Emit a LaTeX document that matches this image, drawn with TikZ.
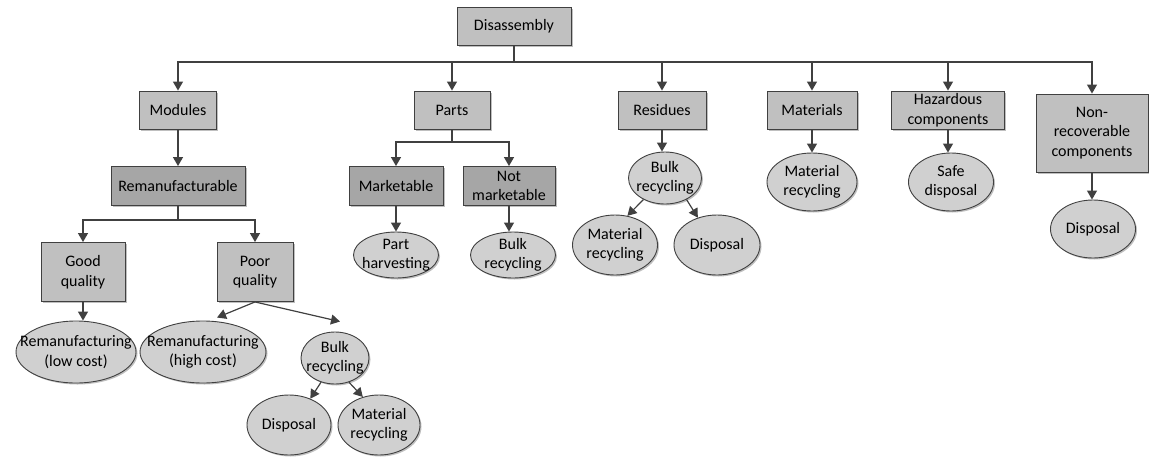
\documentclass[tikz,border=0pt]{standalone}
\usepackage{fontspec}
\setmainfont{Carlito}
\usetikzlibrary{shapes.geometric,arrows.meta,shadows,calc}
\definecolor{linegray}{HTML}{404040}
\definecolor{boxlight}{HTML}{C0C0C0}
\definecolor{boxdark}{HTML}{A6A6A6}
\definecolor{ovalfill}{HTML}{D0D0D0}
\begin{document}
\begin{tikzpicture}[x=1pt,y=-1pt,
  every node/.style={font=\fontsize{16}{19.5}\selectfont, text=black, inner sep=0pt, align=center},
  shade/.style={drop shadow={shadow xshift=1.5pt, shadow yshift=-1.5pt, fill=black, opacity=0.25}},
  boxa/.style={rectangle, draw=linegray, line width=0.9pt, fill=boxlight, shade},
  boxb/.style={rectangle, draw=linegray, line width=0.9pt, fill=boxdark, shade},
  % the oval keeps its given size; its text is laid on top as a centred label
  oval/.style={ellipse, draw=linegray, line width=0.9pt, fill=ovalfill, shade,
    label={[align=center]center:#1}},
  arr/.style={draw=linegray, line width=1.2pt, -{Triangle[length=9pt,width=10pt]}}]
\useasboundingbox (0,0) rectangle (1149,456);

% top level
\node[boxa, minimum width=114pt, minimum height=38pt] (dis) at (514,26) {Disassembly};

% first level
\node[boxa, minimum width=77pt,  minimum height=38pt] (mod) at (178,110) {Modules};
\node[boxa, minimum width=76pt,  minimum height=38pt] (par) at (452,110) {Parts};
\node[boxa, minimum width=88pt,  minimum height=38pt] (res) at (662,110) {Residues};
\node[boxa, minimum width=90pt,  minimum height=38pt] (mat) at (812,110) {Materials};
\node[boxa, minimum width=113pt, minimum height=38pt] (haz) at (948,110) {Hazardous\\components};
\node[boxa, minimum width=112pt, minimum height=78pt] (non) at (1092,133) {Non-\\recoverable\\components};

% modules branch
\node[boxb, minimum width=134pt, minimum height=39pt] (rem) at (178,186) {Remanufacturable};
\node[boxa, minimum width=84pt, minimum height=59pt] (good) at (83,272) {Good\\quality};
\node[boxa, minimum width=76pt, minimum height=59pt] (poor) at (255,272) {Poor\\quality};
\node[oval={Remanufacturing\\(low cost)}, minimum width=120pt, minimum height=62pt] (rlc) at (76,352) {};
\node[oval={Remanufacturing\\(high cost)}, minimum width=126pt, minimum height=62pt] (rhc) at (203,352) {};
\node[oval={Bulk\\recycling}, minimum width=68pt, minimum height=52pt] (bpr) at (335,358) {};
\node[oval={Disposal}, minimum width=84pt, minimum height=60pt] (dpr) at (289,425) {};
\node[oval={Material\\recycling}, minimum width=82pt, minimum height=60pt] (mpr) at (379,425) {};

% parts branch
\node[boxb, minimum width=94pt, minimum height=39pt] (mkt) at (396,186) {Marketable};
\node[boxb, minimum width=92pt, minimum height=39pt] (nmk) at (509,186) {Not\\marketable};
\node[oval={Part\\harvesting}, minimum width=85pt, minimum height=46pt] (phv) at (396,255) {};
\node[oval={Bulk\\recycling}, minimum width=85pt, minimum height=46pt] (bnm) at (513,255) {};

% residues branch
\node[oval={Bulk\\recycling}, minimum width=73pt, minimum height=52pt] (bre) at (665,178) {};
\node[oval={Material\\recycling}, minimum width=85pt, minimum height=60pt] (mre) at (615,245) {};
\node[oval={Disposal}, minimum width=86pt, minimum height=60pt] (dre) at (717,245) {};

% remaining branches
\node[oval={Material\\recycling}, minimum width=90pt, minimum height=58pt] (mmt) at (812,182) {};
\node[oval={Safe\\disposal}, minimum width=85pt, minimum height=58pt] (sdp) at (951,182) {};
\node[oval={Disposal}, minimum width=85pt, minimum height=58pt] (dnr) at (1093,229) {};

% connectors from the top
\coordinate (bus) at (0,62);
\foreach \c in {mod,par,res,mat,haz,non}
  \draw[arr] (dis.south) -- (dis.south |- bus) -| (\c.north);

% modules branch connectors
\draw[arr] (mod.south) -- (rem.north);
\coordinate (splitq) at (0,220);
\draw[arr] (rem.south) -- (rem.south |- splitq) -| (good.north);
\draw[arr] (rem.south) -- (rem.south |- splitq) -| (poor.north);
\draw[arr] (good.south) -- (good.south |- rlc.north);
\draw[arr] (poor.south) -- ($(rhc.north)+(14,-3)$);
\draw[arr] (poor.south) -- ($(bpr.north)+(5,-10)$);
\draw[arr] (bpr.240) -- (dpr.51);
\draw[arr] (bpr.300) -- (mpr.120);

% parts branch connectors
\coordinate (splitp) at (0,142);
\draw[arr] (par.south) -- (par.south |- splitp) -| (mkt.north);
\draw[arr] (par.south) -- (par.south |- splitp) -| (nmk.north);
\draw[arr] (mkt.south) -- (phv.north);
\draw[arr] (nmk.south) -- (nmk.south |- bnm.north);

% residues branch connectors
\draw[arr] (res.south) -- (res.south |- bre.north);
\draw[arr] (bre.225) -- (mre.67);
\draw[arr] (bre.315) -- (dre.125);

% other branches
\draw[arr] (mat.south) -- (mmt.north);
\draw[arr] (haz.south) -- (haz.south |- sdp.north);
\draw[arr] (non.south) -- (non.south |- dnr.north);
\end{tikzpicture}
\end{document}
